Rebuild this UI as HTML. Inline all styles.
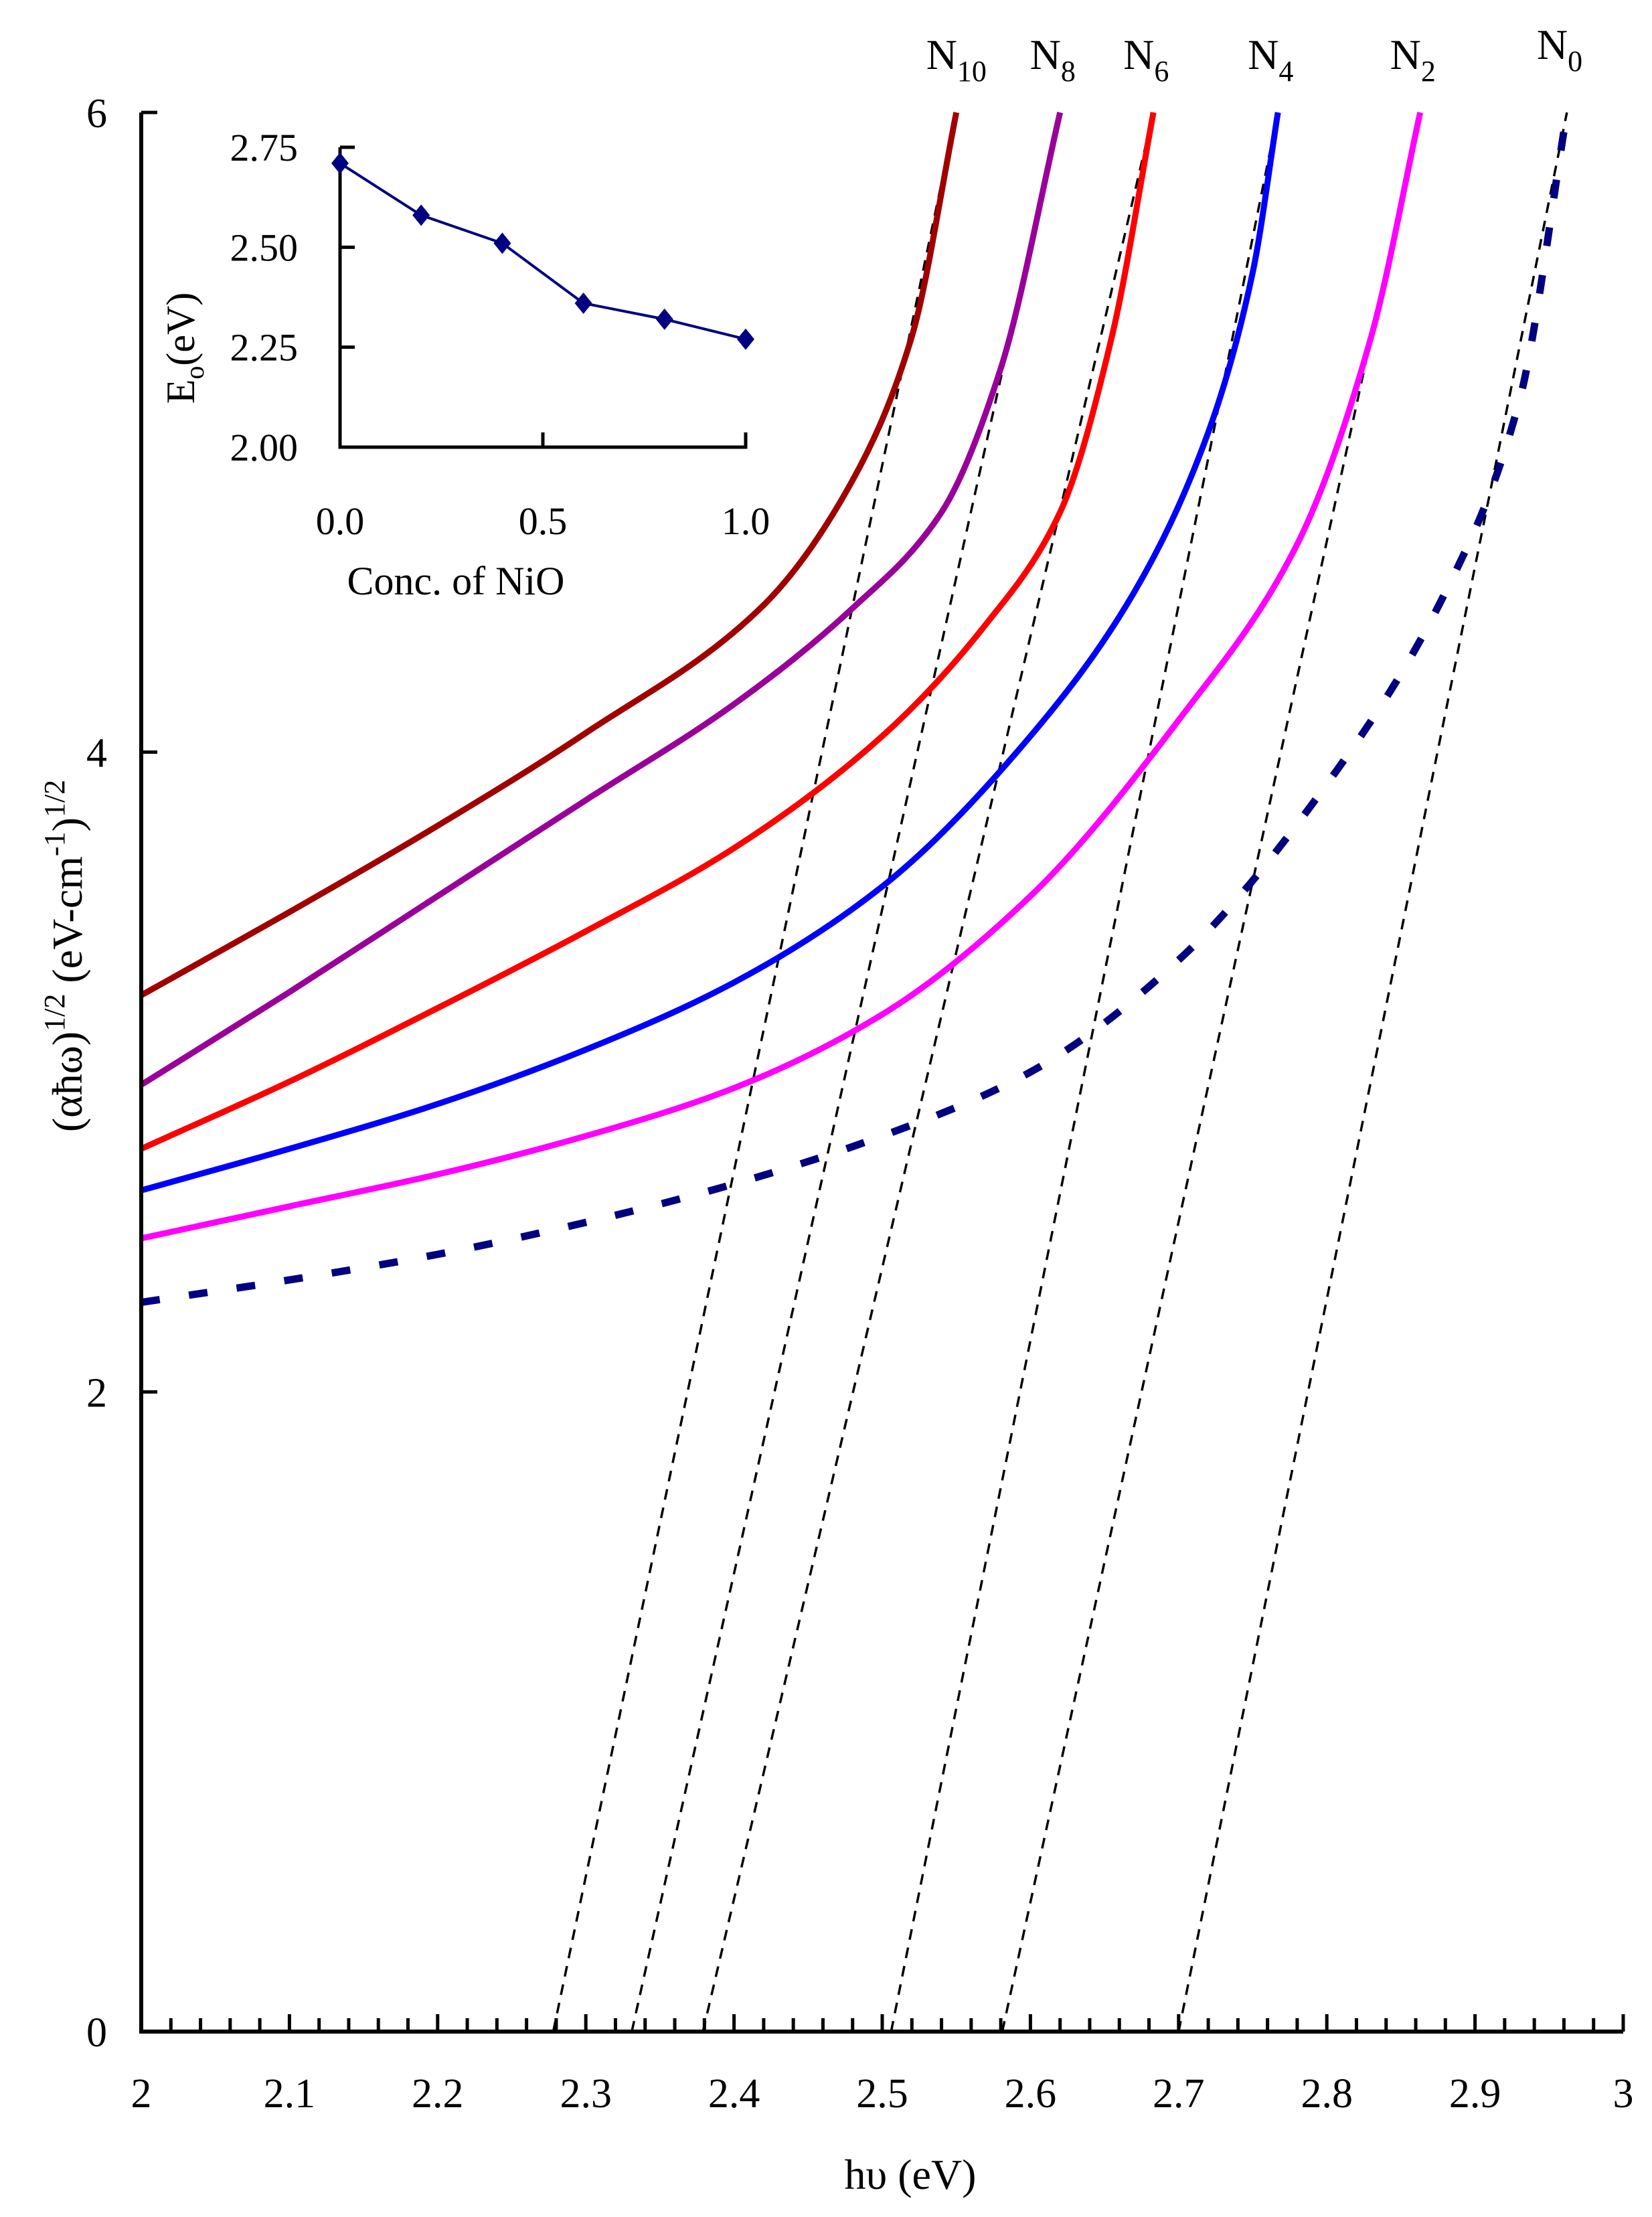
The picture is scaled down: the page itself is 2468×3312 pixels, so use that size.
<!DOCTYPE html>
<html><head><meta charset="utf-8"><style>
html,body{margin:0;padding:0;background:#fff;}
svg{display:block;}
text{font-family:"Liberation Serif",serif;}
</style></head><body>
<svg id="chart" width="2468" height="3312" viewBox="0 0 2468 3312" xmlns="http://www.w3.org/2000/svg" font-family="Liberation Serif, serif">
<rect width="2468" height="3312" fill="#fff"/>
<g id="main" font-family="Liberation Serif, serif"></g>
<g id="inset" font-family="Liberation Serif, serif"></g>
</svg>
<script>
const seriesNames = ["N10","N8","N6","N4","N2","N0"];
const seriesColors = ["#a00000","#990099","#ff0000","#0000ff","#ff00ff","#000080"];
const n10 = [[2,3.24],[2.1,3.5],[2.2,3.77],[2.3,4.06],[2.42,4.46],[2.48,4.85],[2.52,5.3],[2.55,6.0]];
const n8 = [[2,2.96],[2.1,3.25],[2.2,3.55],[2.3,3.85],[2.4,4.15],[2.48,4.45],[2.54,4.75],[2.58,5.2],[2.62,6]];
const n6 = [[2,2.76],[2.1,2.97],[2.2,3.2],[2.3,3.44],[2.4,3.7],[2.5,4.05],[2.57,4.4],[2.62,4.75],[2.655,5.3],[2.683,6]];
const n4 = [[2,2.63],[2.1,2.76],[2.2,2.9],[2.3,3.07],[2.4,3.28],[2.5,3.58],[2.6,4.05],[2.67,4.5],[2.72,5.0],[2.75,5.5],[2.767,6]];
const n2 = [[2,2.48],[2.1,2.58],[2.2,2.68],[2.3,2.8],[2.4,2.95],[2.5,3.18],[2.6,3.55],[2.7,4.1],[2.78,4.65],[2.83,5.3],[2.863,6]];
const n0 = [[2,2.28],[2.1,2.35],[2.2,2.43],[2.3,2.53],[2.4,2.65],[2.5,2.8],[2.6,3.0],[2.7,3.35],[2.8,3.9],[2.88,4.5],[2.93,5.1],[2.962,6]];
const intercepts = [2.278,2.331,2.379,2.506,2.581,2.70];
const xTicks = ["2","2.1","2.2","2.3","2.4","2.5","2.6","2.7","2.8","2.9","3"];
const yTicks = ["0","2","4","6"];
const insetX = [0,0.2,0.4,0.6,0.8,1.0];
const insetY = [2.71,2.58,2.51,2.36,2.32,2.27];
const insetYTicks = ["2.00","2.25","2.50","2.75"];
const insetXTicks = ["0.0","0.5","1.0"];

const NS="http://www.w3.org/2000/svg";
const X0=211,X1=2425,Y0=3035,Y6=168;
const sx=v=>X0+(v-2)*(X1-X0);
const sy=v=>Y0-v*(Y0-Y6)/6;
function el(tag,attrs,parent,text){const e=document.createElementNS(NS,tag);for(const k in attrs)e.setAttribute(k,attrs[k]);if(text!==undefined)e.textContent=text;parent.appendChild(e);return e;}
const main=document.getElementById('main');
// monotone cubic (Fritsch-Carlson) path in pixel space
function smooth(pts){const n=pts.length;const dx=[],m=[],t=[];
 for(let i=0;i<n-1;i++){dx.push(pts[i+1][0]-pts[i][0]);m.push((pts[i+1][1]-pts[i][1])/dx[i]);}
 t[0]=m[0];t[n-1]=m[n-2];
 for(let i=1;i<n-1;i++){t[i]=(m[i-1]*m[i]<=0)?0:(dx[i-1]+dx[i])*3/((2*dx[i]+dx[i-1])/m[i-1]+(dx[i]+2*dx[i-1])/m[i]);}
 let d=`M${pts[0][0]},${pts[0][1]}`;
 for(let i=0;i<n-1;i++){const h=dx[i]/3;d+=` C${pts[i][0]+h},${pts[i][1]+t[i]*h} ${pts[i+1][0]-h},${pts[i+1][1]-t[i+1]*h} ${pts[i+1][0]},${pts[i+1][1]}`;}
 return d;}
const allSeries=[n10,n8,n6,n4,n2,n0];
allSeries.forEach((s,i)=>{const top=s[s.length-1];
 const ln=el('line',{x1:sx(intercepts[i]),y1:sy(0),x2:sx(top[0]),y2:sy(top[1]),stroke:'#000','stroke-width':3.5,'stroke-dasharray':'16,12'},main);
 
 
});
allSeries.forEach((s,i)=>{const pts=s.map(p=>[sx(p[0]),sy(p[1])]);
 const a={d:smooth(pts),fill:'none',stroke:seriesColors[i],'stroke-width':i==5?11:9,'stroke-linecap':'butt'};
 if(i==5)a['stroke-dasharray']='28,44';
 const p=el('path',a,main);
 
 
 const top=s[s.length-1];
 const sub=seriesNames[i].slice(1);
 const t=el('text',{x:sx(top[0])-45,y:i==5?88:103,'font-size':64},main);
 
 
 el('tspan',{},t,'N');el('tspan',{'font-size':44,dy:18},t,sub);
});
const ax=el('path',{d:`M${X0},${Y6} V${Y0} H${X1}`,fill:'none',stroke:'#000','stroke-width':6},main);

for(let k=0;k<=50;k++){const x=sx(2+k*0.02);const h=k%5==0?26:20;
 const tk=el('line',{x1:x,y1:Y0,x2:x,y2:Y0-h,stroke:'#000','stroke-width':5},main);
 }
xTicks.forEach((l,i)=>{const t=el('text',{x:sx(2+i*0.1),y:3148,'font-size':62,'text-anchor':'middle'},main,l);
 });
yTicks.forEach((l)=>{const v=+l;const y=sy(v);
 const tk=el('line',{x1:X0,y1:y,x2:X0+24,y2:y,stroke:'#000','stroke-width':5},main);
 
 const t=el('text',{x:160,y:y+22,'font-size':62,'text-anchor':'end'},main,l);
 });
const xt=el('text',{x:1360,y:3270,'font-size':64,'text-anchor':'middle'},main,'hυ (eV)');

const yt=el('text',{x:0,y:0,'font-size':64,'text-anchor':'middle',transform:'translate(122,1428) rotate(-90)'},main);

el('tspan',{},yt,'(αħω)');el('tspan',{'font-size':44,dy:-26},yt,'1/2');el('tspan',{dy:26},yt,' (eV-cm');el('tspan',{'font-size':44,dy:-26},yt,'-1');el('tspan',{dy:26},yt,')');el('tspan',{'font-size':44,dy:-26},yt,'1/2');

const ins=document.getElementById('inset');
const IX0=508,IX1=1114,IY0=668,IY1=220;
const ix=v=>IX0+v*(IX1-IX0);
const iy=v=>IY0-(v-2)/0.75*(IY0-IY1);
const iax=el('path',{d:`M${IX0},${IY1} V${IY0} H${IX1} V${IY0-22}`,fill:'none',stroke:'#000','stroke-width':5},ins);

insetYTicks.forEach(l=>{const y=iy(+l);
 if(+l>2){const tk=el('line',{x1:IX0,y1:y,x2:IX0+22,y2:y,stroke:'#000','stroke-width':5},ins);}
 const t=el('text',{x:445,y:y+20,'font-size':58,'text-anchor':'end'},ins,l);
 });
insetXTicks.forEach(l=>{const x=ix(+l);
 if(+l>0){const tk=el('line',{x1:x,y1:IY0,x2:x,y2:IY0-22,stroke:'#000','stroke-width':5},ins);}
 const t=el('text',{x:x,y:798,'font-size':58,'text-anchor':'middle'},ins,l);
 });
const il=el('polyline',{points:insetX.map((v,i)=>ix(v)+','+iy(insetY[i])).join(' '),fill:'none',stroke:'#000080','stroke-width':4},ins);

insetX.forEach((v,i)=>{const cx=ix(v),cy=iy(insetY[i]);
 const m=el('polygon',{points:`${cx},${cy-16} ${cx+13},${cy} ${cx},${cy+16} ${cx-13},${cy}`,fill:'#000080'},ins);
 });
const ixt=el('text',{x:681,y:888,'font-size':60,'text-anchor':'middle'},ins,'Conc. of NiO');

const iyt=el('text',{x:0,y:0,'font-size':60,'text-anchor':'middle',transform:'translate(290,520) rotate(-90)'},ins);

el('tspan',{},iyt,'E');el('tspan',{'font-size':40,dy:14},iyt,'o');el('tspan',{dy:-14},iyt,'(eV)');
</script>
</body></html>
